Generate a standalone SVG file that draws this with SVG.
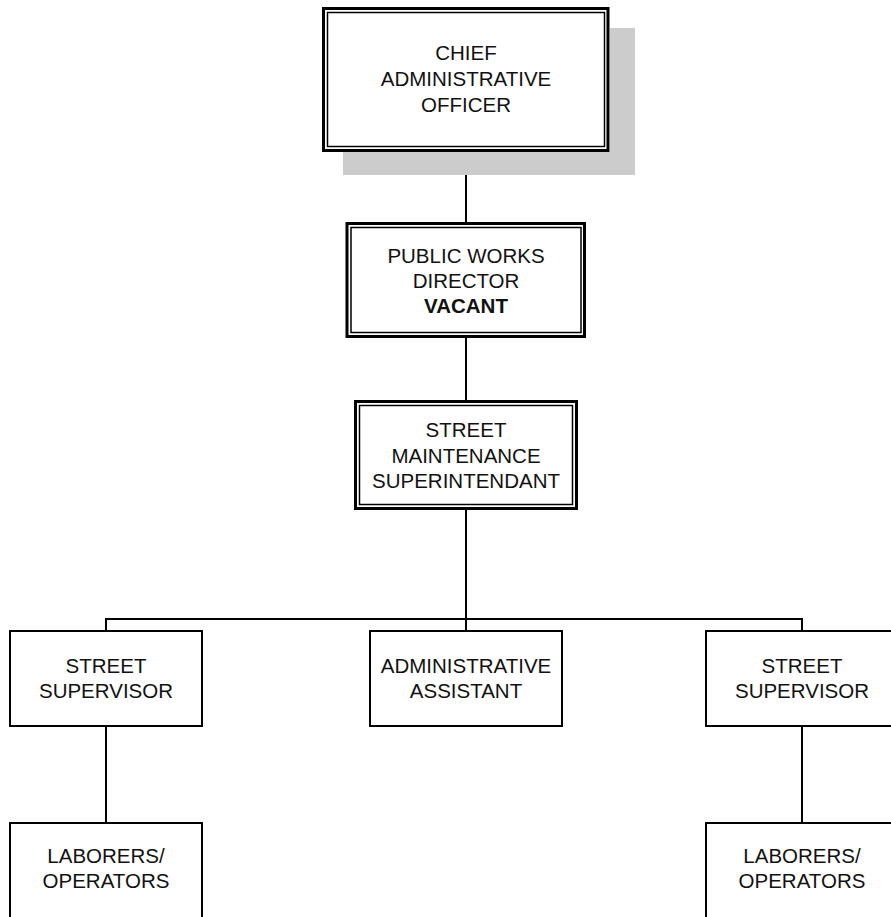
<svg xmlns="http://www.w3.org/2000/svg" width="891" height="917" viewBox="0 0 891 917">
  <style>
    .outer { fill: none; stroke: #000; stroke-width: 3; }
    .inner { fill: none; stroke: #000; stroke-width: 1.5; }
    .box { fill: #fff; stroke: #000; stroke-width: 2; }
    .bg { fill: #fff; }
    .shadow { fill: #cccccc; }
    .lbl { font-family: "Liberation Sans", Arial, sans-serif; font-size: 20.5px; fill: #111; text-anchor: middle; }
    .bold { font-weight: bold; }
    .conn { fill: none; stroke: #000; stroke-width: 2; }
  </style>

  <!-- connectors -->
  <g id="connectors">
    <line class="conn" x1="466" y1="152" x2="466" y2="222"/>
    <line class="conn" x1="466" y1="338" x2="466" y2="400"/>
    <line class="conn" x1="466" y1="510" x2="466" y2="619"/>
    <polyline class="conn" points="106,631 106,619 802,619 802,631"/>
    <line class="conn" x1="466" y1="619" x2="466" y2="631"/>
    <line class="conn" x1="106" y1="726" x2="106" y2="823"/>
    <line class="conn" x1="802" y1="726" x2="802" y2="823"/>
  </g>

  <!-- chief administrative officer -->
  <g id="cao">
    <rect class="shadow" x="343" y="28" width="292" height="147"/>
    <rect class="bg" x="322" y="7" width="288" height="145"/>
    <rect class="outer" x="323.5" y="8.5" width="284.5" height="142"/>
    <rect class="inner" x="327.5" y="12.5" width="277" height="134"/>
    <text class="lbl" x="466" y="60">CHIEF</text>
    <text class="lbl" x="466" y="86">ADMINISTRATIVE</text>
    <text class="lbl" x="466" y="112">OFFICER</text>
  </g>

  <!-- public works director -->
  <g id="pwd">
    <rect class="bg" x="346" y="222" width="240" height="116"/>
    <rect class="outer" x="347" y="223.5" width="237.5" height="113"/>
    <rect class="inner" x="351" y="227.5" width="230" height="105"/>
    <text class="lbl" x="466" y="263">PUBLIC WORKS</text>
    <text class="lbl" x="466" y="288">DIRECTOR</text>
    <text class="lbl bold" x="466" y="313">VACANT</text>
  </g>

  <!-- street maintenance superintendant -->
  <g id="sms">
    <rect class="bg" x="354" y="400" width="224" height="110"/>
    <rect class="outer" x="355.5" y="401.5" width="221" height="107"/>
    <rect class="inner" x="359.5" y="405.5" width="213" height="99"/>
    <text class="lbl" x="466" y="437">STREET</text>
    <text class="lbl" x="466" y="463">MAINTENANCE</text>
    <text class="lbl" x="466" y="488">SUPERINTENDANT</text>
  </g>

  <!-- street supervisor (left) -->
  <g id="supervisor-left">
    <rect class="box" x="10" y="631" width="192" height="95"/>
    <text class="lbl" x="106" y="673">STREET</text>
    <text class="lbl" x="106" y="698">SUPERVISOR</text>
  </g>

  <!-- administrative assistant -->
  <g id="admin-assistant">
    <rect class="box" x="370" y="631" width="192" height="95"/>
    <text class="lbl" x="466" y="673">ADMINISTRATIVE</text>
    <text class="lbl" x="466" y="698">ASSISTANT</text>
  </g>

  <!-- street supervisor (right) -->
  <g id="supervisor-right">
    <rect class="box" x="706" y="631" width="192" height="95"/>
    <text class="lbl" x="802" y="673">STREET</text>
    <text class="lbl" x="802" y="698">SUPERVISOR</text>
  </g>

  <!-- laborers / operators (left) -->
  <g id="laborers-left">
    <rect class="box" x="10" y="823" width="192" height="110"/>
    <text class="lbl" x="106" y="863">LABORERS/</text>
    <text class="lbl" x="106" y="888">OPERATORS</text>
  </g>

  <!-- laborers / operators (right) -->
  <g id="laborers-right">
    <rect class="box" x="706" y="823" width="192" height="110"/>
    <text class="lbl" x="802" y="863">LABORERS/</text>
    <text class="lbl" x="802" y="888">OPERATORS</text>
  </g>
</svg>
